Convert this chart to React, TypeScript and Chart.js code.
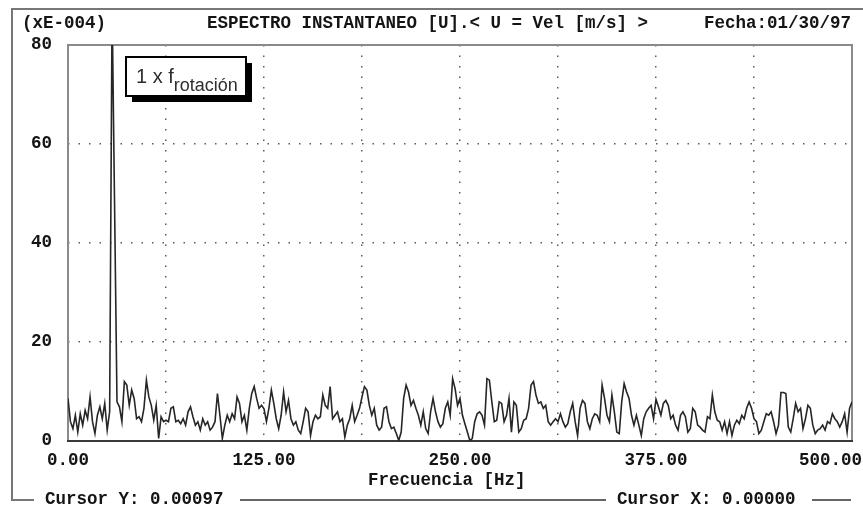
import React, { useEffect, useRef } from "react";
import { Chart, registerables } from "chart.js";

Chart.register(...registerables);

// Spectrum amplitude (xE-004), one value per 1.5625 Hz bin from 0 to 500 Hz
const AMPLITUDE: number[] = [
  8.6, 3.9, 2.5, 5.2, 1.8, 5.5, 3.2, 6.2, 4.5, 8.9,
  3.9, 1.5, 5.2, 6.9, 4.5, 7.6, 2.2, 5.9, 88, 48,
  7.9, 6.9, 3.9, 12, 11.3, 7.2, 10.3, 8.6, 4.5, 4.9,
  3.9, 6.6, 12.3, 8.9, 7.2, 4.2, 7.2, 0.5, 4.9, 3.9,
  4.2, 3.9, 6.6, 6.9, 3.9, 4.2, 3.5, 4.5, 3.2, 5.9,
  6.9, 4.9, 3.2, 3.9, 2.2, 4.5, 3.2, 3.9, 2.2, 2.8,
  3.9, 9.6, 5.2, 0.5, 3.2, 5.2, 3.9, 5.5, 4.5, 8.9,
  7.6, 3.9, 5.2, 2.2, 6.6, 9.6, 11, 8.6, 6.6, 7.2,
  6.5, 3.9, 6.6, 10.3, 7.6, 4.5, 2.5, 5.2, 9.9, 5.9,
  8.2, 4.5, 3.2, 3.9, 2.2, 1.5, 3.9, 6.6, 5.9, 1.1,
  3.9, 5.2, 4.5, 4.9, 9.3, 7.2, 6.6, 11, 4.5, 5.2,
  5.9, 3.9, 4.5, 0.8, 3.2, 4.5, 7.2, 3.9, 5.2, 6.6,
  8.9, 11, 10.3, 7.2, 5.2, 6.6, 3.2, 2.2, 2.8, 6.6,
  6.9, 3.9, 2.5, 2.8, 1.5, 0.1, 1.8, 8.6, 11.3, 9.9,
  7.2, 8.2, 6.6, 5.2, 3.2, 5.9, 2.5, 1.5, 5.9, 8.6,
  5.9, 3.9, 2.8, 3.5, 6.6, 7.9, 5.2, 12.6, 10.6, 7.2,
  8.6, 5.2, 3.5, 1.8, 0.1, 0.5, 3.9, 5.5, 5.9, 5.2,
  3.2, 12.6, 12.3, 7.9, 3.9, 4.2, 7.9, 7.6, 3.9, 5.2,
  8.6, 1.8, 7.9, 7.2, 1.8, 2.5, 4.2, 4.5, 6.6, 11.3,
  12, 9.3, 7.6, 7.9, 6.6, 7.2, 3.9, 3.2, 3.9, 4.5,
  3.9, 5.5, 3.9, 2.8, 3.5, 5.9, 7.6, 3.9, 1.1, 6.6,
  8.2, 7.6, 3.9, 2.5, 4.5, 5.5, 5.2, 3.9, 11.3, 8.6,
  5.2, 3.9, 9.3, 5.9, 1.8, 1.5, 7.9, 11.6, 9.9, 8.6,
  5.2, 3.2, 5.2, 3.2, 1.1, 4.5, 5.9, 6.6, 7.2, 4.5,
  8.4, 6.9, 5.2, 7.6, 8.2, 7.2, 4.5, 5.2, 3.2, 2.2,
  5.2, 5.9, 4.9, 1.8, 2.5, 6.6, 5.9, 3.2, 2.8, 2.2,
  1.8, 4.9, 4.5, 9.3, 5.9, 4.2, 3.9, 2.2, 3.9, 1.5,
  3.9, 1.1, 3.2, 4.2, 3.5, 5.2, 4.5, 6.6, 7.9, 6.6,
  4.5, 3.9, 1.5, 2.2, 3.9, 5.5, 5.2, 5.9, 3.9, 1.5,
  3.2, 9.8, 9.8, 9.6, 2.8, 1.8, 4.5, 7.6, 5.9, 6.6,
  2.5, 4.5, 7.2, 6.6, 3.2, 1.5, 2.2, 2.5, 3.2, 2.2,
  3.9, 3.5, 5.5, 4.5, 3.9, 2.8, 3.9, 5.5, 1.8, 6.6,
  7.9,
];

const FREQ_STEP = 1.5625; // Hz per bin
const FREQ_MIN = 0;
const FREQ_MAX = 500;
const AMP_MIN = 0;
const AMP_MAX = 80;
const Y_TICKS = [0, 20, 40, 60, 80];
const X_LABEL_TICKS = [0, 125, 250, 375, 500];

const HEADER_LEFT = "(xE-004)";
const HEADER_TITLE = "ESPECTRO INSTANTANEO [U].< U = Vel [m/s] >";
const HEADER_DATE = "Fecha:01/30/97";
const X_TITLE = "Frecuencia [Hz]";
const CURSOR_Y = "Cursor Y: 0.00097";
const CURSOR_X = "Cursor X: 0.00000";
const NOTE_MAIN = "1 x f";
const NOTE_SUB = "rotación";

const MONO = 'bold 17.5px "Liberation Mono", "DejaVu Sans Mono", monospace';
const SANS = '"Liberation Sans", Arial, sans-serif';
const INK = "#141414";

const PLOT_LEFT = 68;
const PLOT_TOP = 45;
const PLOT_RIGHT = 852;
const PLOT_BOTTOM = 441;
const W = 863;
const H = 511;

const framePlugin = {
  id: "analyzerFrame",
  beforeDatasetsDraw(chart: any) {
    const { ctx, chartArea: a } = chart;
    ctx.save();
    // plot frame
    ctx.strokeStyle = "#8a8a8a";
    ctx.lineWidth = 2;
    ctx.beginPath();
    ctx.moveTo(a.left, a.bottom);
    ctx.lineTo(a.left, a.top);
    ctx.lineTo(a.right, a.top);
    ctx.lineTo(a.right, a.bottom);
    ctx.stroke();
    ctx.strokeStyle = "#3a3a3a";
    ctx.lineWidth = 2;
    ctx.beginPath();
    ctx.moveTo(a.left - 1, a.bottom);
    ctx.lineTo(a.right + 1, a.bottom);
    ctx.stroke();
    ctx.restore();
  },
  afterDraw(chart: any) {
    const { ctx } = chart;
    const xs = chart.scales.x;
    ctx.save();

    // outer window frame
    ctx.strokeStyle = "#777";
    ctx.lineWidth = 2;
    ctx.beginPath();
    ctx.moveTo(W, 9);
    ctx.lineTo(12, 9);
    ctx.lineTo(12, 500);
    ctx.lineTo(34, 500);
    ctx.stroke();
    ctx.strokeStyle = "#333";
    ctx.lineWidth = 1.5;
    ctx.beginPath();
    ctx.moveTo(240, 500);
    ctx.lineTo(606, 500);
    ctx.moveTo(812, 500);
    ctx.lineTo(851, 500);
    ctx.stroke();

    // header and footer texts
    ctx.fillStyle = INK;
    ctx.font = MONO;
    ctx.textBaseline = "middle";
    ctx.textAlign = "left";
    ctx.fillText(HEADER_LEFT, 22, 24);
    ctx.fillText(HEADER_TITLE, 207, 24);
    ctx.fillText(HEADER_DATE, 704, 24);
    ctx.fillText(CURSOR_Y, 45, 500);
    ctx.fillText(CURSOR_X, 617, 500);
    ctx.fillText(X_TITLE, 368, 481);

    // x tick labels, kept inside the window
    X_LABEL_TICKS.forEach((v) => {
      const label = v.toFixed(2);
      const w = ctx.measureText(label).width;
      let cx = xs.getPixelForValue(v);
      cx = Math.min(cx, W - 1 - w / 2);
      ctx.textAlign = "center";
      ctx.fillText(label, cx, 461);
    });

    // note box with drop shadow
    const bx = 126, by = 57, bw = 120, bh = 39;
    ctx.fillStyle = "#000";
    ctx.fillRect(bx + 6, by + 6, bw, bh);
    ctx.fillStyle = "#fff";
    ctx.fillRect(bx, by, bw, bh);
    ctx.strokeStyle = "#000";
    ctx.lineWidth = 2;
    ctx.strokeRect(bx, by, bw, bh);
    ctx.fillStyle = "#2e2e2e";
    ctx.textAlign = "left";
    ctx.textBaseline = "alphabetic";
    ctx.font = `20px ${SANS}`;
    ctx.fillText(NOTE_MAIN, 136, 83);
    const mw = ctx.measureText(NOTE_MAIN).width;
    ctx.font = `18px ${SANS}`;
    ctx.fillText(NOTE_SUB, 136 + mw, 91);

    ctx.restore();
  },
};

export default function App() {
  const ref = useRef<HTMLCanvasElement | null>(null);

  useEffect(() => {
    if (!ref.current) return;
    const points = AMPLITUDE.map((y, i) => ({ x: i * FREQ_STEP, y }));
    const edgeColor = (v: number, lo: number, hi: number) =>
      v === lo || v === hi ? "rgba(0,0,0,0)" : "#5a5a5a";

    const chart = new Chart(ref.current, {
      type: "line",
      data: {
        datasets: [
          {
            data: points,
            borderColor: "#262626",
            borderWidth: 1.6,
            pointRadius: 0,
            tension: 0,
          },
        ],
      },
      options: {
        animation: false,
        responsive: false,
        events: [],
        layout: {
          padding: { top: PLOT_TOP, left: 0, right: W - PLOT_RIGHT, bottom: 0 },
        },
        plugins: {
          legend: { display: false },
          tooltip: { enabled: false },
        },
        scales: {
          x: {
            type: "linear",
            min: FREQ_MIN,
            max: FREQ_MAX,
            ticks: { stepSize: 62.5, display: false },
            grid: {
              drawTicks: false,
              lineWidth: 1.5,
              color: (c: any) => edgeColor(c.tick?.value, FREQ_MIN, FREQ_MAX),
            },
            border: { display: false, dash: [1.5, 9] },
            afterFit: (s: any) => {
              s.height = H - PLOT_BOTTOM;
            },
          },
          y: {
            type: "linear",
            min: AMP_MIN,
            max: AMP_MAX,
            afterBuildTicks: (s: any) => {
              s.ticks = Y_TICKS.map((value) => ({ value }));
            },
            ticks: {
              padding: 16,
              color: INK,
              font: {
                family: '"Liberation Mono", "DejaVu Sans Mono", monospace',
                size: 17.5,
                weight: "bold",
              },
            },
            grid: {
              drawTicks: false,
              lineWidth: 1.5,
              color: (c: any) => edgeColor(c.tick?.value, AMP_MIN, AMP_MAX),
            },
            border: { display: false, dash: [1.5, 9] },
            afterFit: (s: any) => {
              s.width = PLOT_LEFT;
            },
          },
        },
      },
      plugins: [framePlugin],
    });
    return () => chart.destroy();
  }, []);

  return (
    <div
      style={{
        position: "fixed",
        left: 0,
        top: 0,
        width: W,
        height: H,
        background: "#fff",
      }}
    >
      <canvas ref={ref} width={W} height={H} style={{ width: W, height: H, display: "block" }} />
    </div>
  );
}
